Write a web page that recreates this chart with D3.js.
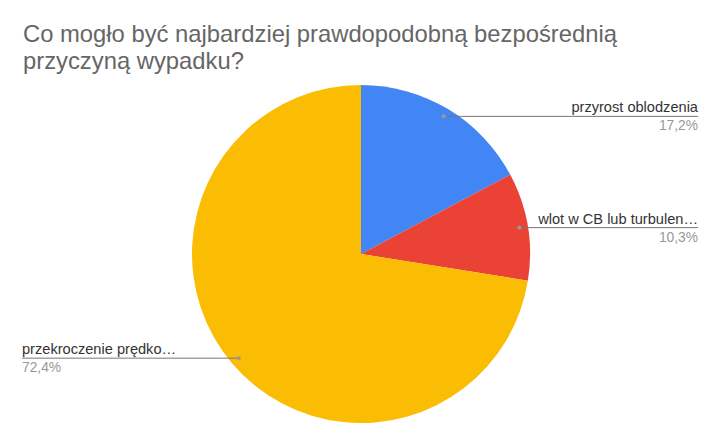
<!DOCTYPE html>
<html>
<head>
<meta charset="utf-8">
<script src="https://cdn.jsdelivr.net/npm/d3@7"></script>
<style>
  body { margin: 0; background: #fff; }
  svg { display: block; font-family: "Liberation Sans", Arial, sans-serif; }
</style>
</head>
<body>
<div id="wrapper"></div>
<script>
// data
const categories = ["przyrost oblodzenia", "wlot w CB lub turbulen…", "przekroczenie prędko…"];
const values = [17.2, 10.3, 72.4];
const pctLabels = ["17,2%", "10,3%", "72,4%"];
const colors = ["#4285f4", "#ea4335", "#fbbc04"];
const titleLines = ["Co mogło być najbardziej prawdopodobną bezpośrednią", "przyczyną wypadku?"];

function drawChart() {
  const dimensions = {
    width: 722,
    height: 446,
    cx: 361,
    cy: 254,
    radius: 169,
  };

  const svg = d3.select("#wrapper")
    .append("svg")
    .attr("width", dimensions.width)
    .attr("height", dimensions.height);

  // title, two lines
  svg.append("g")
    .selectAll("text")
    .data(titleLines)
    .join("text")
    .attr("x", 23)
    .attr("y", (d, i) => 42 + i * 27)
    .attr("fill", "#666")
    .style("font-size", "23.8px")
    .text(d => d);

  const pieData = d3.pie().sort(null).value(d => d)(values);

  const arc = d3.arc().innerRadius(0).outerRadius(dimensions.radius);
  const labelArc = d3.arc().innerRadius(dimensions.radius * 0.95).outerRadius(dimensions.radius * 0.95);

  const bounds = svg.append("g")
    .attr("transform", `translate(${dimensions.cx},${dimensions.cy})`);

  bounds.selectAll("path")
    .data(pieData)
    .join("path")
    .attr("d", arc)
    .attr("fill", (d, i) => colors[i]);

  // labels
  const labels = svg.append("g");
  pieData.forEach((d, i) => {
    const [px, py] = labelArc.centroid(d);
    const x = dimensions.cx + px;
    const y = dimensions.cy + py;
    const right = x > dimensions.cx;
    const endX = right ? 698 : 22;

    labels.append("line")
      .attr("x1", x).attr("y1", y)
      .attr("x2", endX).attr("y2", y)
      .attr("stroke", "#777")
      .attr("stroke-width", 1);
    labels.append("circle")
      .attr("cx", x).attr("cy", y).attr("r", 2)
      .attr("fill", "#999");

    labels.append("text")
      .attr("x", endX)
      .attr("y", y - 4)
      .attr("text-anchor", right ? "end" : "start")
      .attr("fill", "#333")
      .style("font-size", "14.6px")
      .text(categories[i]);
    labels.append("text")
      .attr("x", endX)
      .attr("y", y + 14)
      .attr("text-anchor", right ? "end" : "start")
      .attr("fill", "#999")
      .style("font-size", "13.8px")
      .text(pctLabels[i]);
  });
}
drawChart();
</script>
</body>
</html>
